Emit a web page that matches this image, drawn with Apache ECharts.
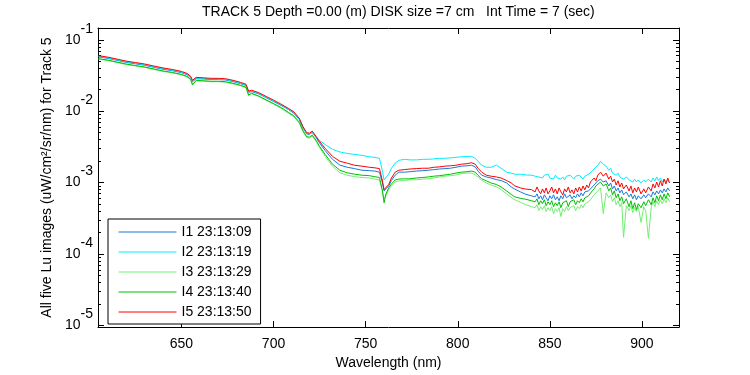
<!DOCTYPE html>
<html>
<head>
<meta charset="utf-8">
<script src="https://cdn.jsdelivr.net/npm/echarts@6/dist/echarts.min.js"></script>
<style>
html,body{margin:0;padding:0;background:#fff}
#chart{width:750px;height:375px}
</style>
</head>
<body>
<div id="chart"></div>
<script>
// wavelength (nm)
var wl = [605,610,615,620,625,630,635,640,645,650,653,655,656,658,662,666,670,674,678,682,685,686.5,688,692,696,700,704,708,711,714,716,718,719.5,721,723,725,
	728,732,736,740,744,748,752,755,757.5,759,760,761,762.5,764,766,768,771,774,777.5,781,784,787,790,793,796,799,802,805,807.5,809.5,811,813,815.5,818,821,823.5,826.5,829,831,834,837,840,
	842,843,844,845,846,847,848,849,850,851,852,853,854,855,856,857,858,859,860,861,862,863,864,865,866,867,868,869,870,871,872,873,874,875,876,
	877.5,879,880.5,882,883,884,885,886,887,888,889,890,891.5,893,894,895,896,897,898,899.5,901,902,903.5,905,906,907,908,909,910,911,912,913,914,915];

// I1 (blue)
var i1 = [0.0577,0.0551,0.0517,0.0484,0.0462,0.0441,0.0413,0.0388,0.0370,0.0347,0.0326,0.0296,0.0260,0.0286,0.0283,0.0278,0.0278,0.0274,0.0260,0.0244,0.0230,0.0184,0.0189,0.0175,0.0155,0.0137,0.0121,0.0106,0.0094,0.00764,0.00582,0.00480,0.00474,0.00505,0.00431,0.00359,
	0.00281,0.00212,0.00176,0.00164,0.00157,0.00149,0.00147,0.00145,0.00140,0.00102,0.000765,0.000816,0.000898,0.00107,0.00127,0.00140,0.00140,0.00142,0.00145,0.00147,0.00149,0.00152,0.00155,0.00157,0.00159,0.00164,0.00170,0.00172,0.00175,0.00166,0.00145,0.00127,0.00120,0.00116,0.00110,0.00107,0.000989,0.000870,0.000810,0.000742,0.000684,0.000653,
	0.000632,0.000695,0.000593,0.000653,0.000575,0.000674,0.000612,0.000557,0.000653,0.000593,
	0.000674,0.000575,0.000632,0.000557,0.000653,0.000593,0.000695,0.000612,0.000575,0.000674,
	0.000593,0.000653,0.000612,0.000695,0.000632,0.000718,0.000653,0.000741,0.000695,0.000765,
	0.000816,0.000869,0.000926,0.000988,0.00106,0.00112,0.00102,0.00106,0.000897,0.000988,
	0.000816,0.000897,0.000765,0.000842,0.000718,0.000790,0.000674,0.000741,0.000632,0.000695,
	0.000593,0.000674,0.000575,0.000653,0.000593,0.000674,0.000612,0.000695,0.000632,0.000741,
	0.000674,0.000765,0.000695,0.000790,0.000718,0.000816,0.000741,0.000842,0.000765];

// I2 (cyan)
var i2 = [0.0587,0.0560,0.0526,0.0493,0.0470,0.0449,0.0421,0.0395,0.0377,0.0353,0.0332,0.0301,0.0265,0.0291,0.0288,0.0283,0.0283,0.0279,0.0265,0.0248,0.0234,0.0187,0.0193,0.0178,0.0157,0.0140,0.0123,0.0108,0.0096,0.00778,0.00593,0.00489,0.00482,0.00514,0.00440,0.00388,
	0.00342,0.00292,0.00269,0.00256,0.00248,0.00241,0.00230,0.00226,0.00219,0.00149,0.00109,0.00116,0.00131,0.00159,0.00187,0.00205,0.00212,0.00208,0.00208,0.00212,0.00212,0.00215,0.00219,0.00219,0.00222,0.00226,0.00230,0.00233,0.00233,0.00219,0.00199,0.00175,0.00164,0.00164,0.00176,0.00159,0.00140,0.00136,0.00131,0.00131,0.00128,0.00127,
	0.00123,0.00131,0.00120,0.00127,0.00116,0.00127,0.00120,0.00131,0.00116,0.00123,
	0.00112,0.00127,0.00116,0.00123,0.00112,0.00120,0.00109,0.00123,0.00116,0.00127,
	0.00120,0.00112,0.00123,0.00116,0.00127,0.00120,0.00112,0.00123,0.00120,0.00131,
	0.00136,0.00145,0.00155,0.00159,0.00175,0.00199,0.00181,0.00170,0.00149,0.00159,
	0.00136,0.00145,0.00127,0.00136,0.00120,0.00127,0.00112,0.00120,0.00109,0.00116,
	0.00102,0.00112,0.00102,0.00109,0.000988,0.00109,0.00102,0.00112,0.00102,0.00116,
	0.00106,0.00120,0.00106,0.00116,0.00102,0.00112,0.00102,0.00109,0.000988];

// I3 (light green)
var i3 = [0.0537,0.0513,0.0482,0.0451,0.0430,0.0411,0.0385,0.0361,0.0345,0.0323,0.0303,0.0276,0.0232,0.0267,0.0263,0.0259,0.0259,0.0255,0.0242,0.0228,0.0214,0.0165,0.0176,0.0161,0.0142,0.0126,0.0110,0.00939,0.00836,0.00679,0.00517,0.00427,0.00421,0.00449,0.00382,0.00311,
	0.00233,0.00170,0.00137,0.00127,0.00121,0.00118,0.00116,0.00112,0.00109,0.000765,0.000593,0.000653,0.000797,0.000898,0.00102,0.00106,0.00107,0.00109,0.00110,0.00112,0.00113,0.00116,0.00120,0.00123,0.00125,0.00128,0.00134,0.00136,0.00136,0.00128,0.00120,0.00107,0.000989,0.000926,0.000870,0.000797,0.000695,0.000622,0.000575,0.000531,0.000490,0.000460,
	0.000445,0.000490,0.000405,0.000460,0.000418,0.000475,0.000392,0.000445,0.000405,0.000460,
	0.000368,0.000431,0.000392,0.000445,0.000335,0.000431,0.000392,0.000460,0.000405,0.000445,
	0.000418,0.000475,0.000405,0.000460,0.000431,0.000490,0.000445,0.000506,0.000490,0.000539,
	0.000575,0.000612,0.000674,0.000718,0.000765,0.000842,0.000368,0.000718,0.000612,0.000674,
	0.000539,0.000612,0.000490,0.000557,0.000460,0.000522,0.000171,0.000475,0.000405,0.000475,
	0.000380,0.000445,0.000392,0.000460,0.000276,0.000460,0.000405,0.000166,0.000445,0.000539,
	0.000460,0.000557,0.000490,0.000575,0.000506,0.000593,0.000522,0.000612,0.000539];

// I4 (green)
var i4 = [0.0545,0.0521,0.0489,0.0458,0.0437,0.0417,0.0391,0.0367,0.0350,0.0328,0.0308,0.0280,0.0236,0.0271,0.0267,0.0263,0.0263,0.0259,0.0246,0.0231,0.0217,0.0168,0.0179,0.0163,0.0144,0.0128,0.0113,0.00968,0.00862,0.00700,0.00533,0.00440,0.00434,0.00463,0.00394,0.00321,
	0.00248,0.00181,0.00149,0.00137,0.00131,0.00127,0.00125,0.00121,0.00118,0.000797,0.000522,0.000695,0.000842,0.000956,0.00109,0.00112,0.00113,0.00113,0.00116,0.00118,0.00120,0.00123,0.00125,0.00128,0.00131,0.00136,0.00140,0.00142,0.00145,0.00140,0.00127,0.00113,0.00106,0.000989,0.000941,0.000870,0.000765,0.000684,0.000630,0.000602,0.000584,0.000557,
	0.000539,0.000593,0.000490,0.000557,0.000506,0.000575,0.000475,0.000539,0.000490,0.000557,
	0.000460,0.000522,0.000475,0.000539,0.000445,0.000522,0.000490,0.000557,0.000460,0.000539,
	0.000506,0.000575,0.000490,0.000557,0.000522,0.000593,0.000539,0.000612,0.000575,0.000653,
	0.000695,0.000765,0.000816,0.000897,0.000926,0.00102,0.000897,0.000957,0.000765,0.000842,
	0.000674,0.000765,0.000612,0.000695,0.000557,0.000632,0.000506,0.000593,0.000460,0.000557,
	0.000431,0.000522,0.000418,0.000506,0.000445,0.000539,0.000475,0.000575,0.000490,0.000612,
	0.000522,0.000653,0.000557,0.000674,0.000575,0.000695,0.000593,0.000718,0.000632];

// I5 (red)
var i5 = [0.0600,0.0573,0.0538,0.0504,0.0481,0.0459,0.0430,0.0404,0.0385,0.0361,0.0339,0.0308,0.0271,0.0298,0.0294,0.0289,0.0289,0.0285,0.0271,0.0254,0.0239,0.0191,0.0197,0.0182,0.0161,0.0143,0.0126,0.0110,0.0098,0.00795,0.00606,0.00500,0.00493,0.00526,0.00448,0.00377,
	0.00302,0.00233,0.00199,0.00187,0.00175,0.00170,0.00164,0.00161,0.00157,0.00109,0.000797,0.000842,0.000941,0.00116,0.00140,0.00149,0.00152,0.00155,0.00157,0.00159,0.00159,0.00164,0.00166,0.00170,0.00172,0.00175,0.00181,0.00184,0.00190,0.00181,0.00159,0.00140,0.00127,0.00123,0.00120,0.00116,0.00107,0.000989,0.000898,0.000842,0.000810,0.000797,
	0.000741,0.000869,0.000765,0.000695,0.000816,0.000718,0.000842,0.000695,0.000765,0.000869,
	0.000718,0.000816,0.000695,0.000842,0.000741,0.000674,0.000816,0.000741,0.000869,0.000718,
	0.000790,0.000695,0.000842,0.000741,0.000869,0.000765,0.000897,0.000790,0.000926,0.000842,
	0.00102,0.000957,0.00116,0.00106,0.00127,0.00140,0.00123,0.00136,0.00112,0.00123,
	0.00102,0.00112,0.000926,0.00106,0.000869,0.000988,0.000816,0.000926,0.000765,0.000897,
	0.000718,0.000842,0.000741,0.000869,0.000695,0.000816,0.000718,0.000869,0.000765,0.000957,
	0.000842,0.00102,0.000869,0.00106,0.000897,0.00112,0.000957,0.00116,0.000988];

var names = ['I1 23:13:09','I2 23:13:19','I3 23:13:29','I4 23:13:40','I5 23:13:50'];
var colors = ['#1878dc','#00eeff','#70f070','#00c000','#ff0000'];

var xTicks = [650,700,750,800,850,900];
var yTicks = [1e-5,1e-4,1e-3,1e-2,1e-1];
var yMinor = [2e-5,3e-5,4e-5,5e-5,6e-5,7e-5,8e-5,9e-5,
	2e-4,3e-4,4e-4,5e-4,6e-4,7e-4,8e-4,9e-4,
	2e-3,3e-3,4e-3,5e-3,6e-3,7e-3,8e-3,9e-3,
	2e-2,3e-2,4e-2,5e-2,6e-2,7e-2,8e-2,9e-2];

var font = 'Liberation Sans, Arial, sans-serif';
var black = {color:'#000', width:1};

function pairs(v){
	return wl.map(function(w, i){ return [w, v[i]]; });
}

function yAxisDef(pos, major){
	return {
		type:'log', min:9.45e-6, max:0.1466, position:pos,
		axisLine:{show:major, lineStyle:black},
		axisTick:{show:true, inside:true, length: major ? 6 : 3, customValues: major ? yTicks : yMinor, lineStyle:black},
		axisLabel:{show:false},
		splitLine:{show:false}, minorTick:{show:false}
	};
}

var chart = echarts.init(document.getElementById('chart'));

var yLeft = yAxisDef('left', true);
yLeft.name = 'All five Lu images (uW/cm\u00b2/sr/nm) for Track 5';
yLeft.nameLocation = 'middle';
yLeft.nameGap = 37;
yLeft.nameTextStyle = {fontFamily:font, fontSize:14, color:'#000'};
yLeft.axisLabel = {
	show:true, customValues:yTicks, margin:5,
	formatter:function(v){
		return '{b|10}{s|' + Math.round(Math.log10(v)) + '}';
	},
	rich:{
		b:{fontFamily:font, fontSize:14, color:'#000', lineHeight:36},
		s:{fontFamily:font, fontSize:14, color:'#000', lineHeight:14, verticalAlign:'top'}
	}
};

var option = {
	animation:false,
	backgroundColor:'#fff',
	title:{
		text:'TRACK 5 Depth =0.00 (m) DISK size =7 cm   Int Time = 7 (sec)',
		left:202, top:5, padding:0,
		textStyle:{fontFamily:font, fontSize:14, fontWeight:'normal', color:'#000'}
	},
	grid:{left:98, top:28, width:581, height:303, show:false, containLabel:false},
	legend:{
		data:names, orient:'vertical', left:108, top:219,
		padding:[6,9,5,10], itemWidth:58, itemHeight:13, itemGap:6,
		borderColor:'#000', borderWidth:1, borderRadius:0, backgroundColor:'#fff',
		itemStyle:{opacity:0},
		lineStyle:{width:1},
		textStyle:{fontFamily:font, fontSize:14, color:'#000'}
	},
	xAxis:[{
		type:'value', min:604.7, max:920.1, position:'bottom',
		name:'Wavelength (nm)', nameLocation:'middle', nameGap:28,
		nameTextStyle:{fontFamily:font, fontSize:14, color:'#000'},
		axisLine:{show:true, lineStyle:black},
		axisTick:{show:true, inside:true, length:6, customValues:xTicks, lineStyle:black},
		axisLabel:{customValues:xTicks, margin:10, fontFamily:font, fontSize:14, color:'#000'},
		splitLine:{show:false}
	},{
		type:'value', min:604.7, max:920.1, position:'top',
		axisLine:{show:true, lineStyle:black},
		axisTick:{show:true, inside:true, length:6, customValues:xTicks, lineStyle:black},
		axisLabel:{show:false},
		splitLine:{show:false}
	}],
	yAxis:[yLeft, yAxisDef('left', false), yAxisDef('right', true), yAxisDef('right', false)],
	series:[i1, i2, i3, i4, i5].map(function(v, k){
		return {
			name:names[k], type:'line', data:pairs(v),
			xAxisIndex:0, yAxisIndex:0,
			symbol:'none', showSymbol:false,
			lineStyle:{color:colors[k], width:1},
			itemStyle:{color:colors[k]},
			emphasis:{disabled:true}
		};
	})
};
chart.setOption(option);
</script>
</body>
</html>
